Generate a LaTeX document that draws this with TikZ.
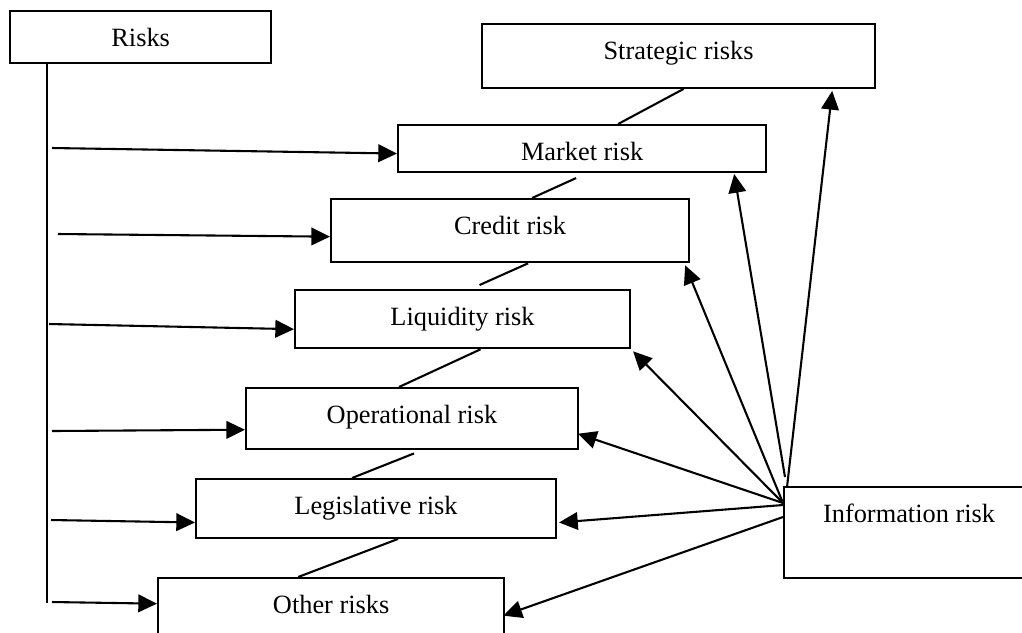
\documentclass[tikz,border=0pt]{standalone}
\usepackage{fontspec}
\setmainfont{Liberation Serif}
\usetikzlibrary{arrows.meta, calc}

\tikzset{
  riskbox/.style={draw, line width=1pt, inner xsep=2pt, inner ysep=0pt,
    text height=0.56cm, anchor=north west}
}

\begin{document}
\begin{tikzpicture}[x=0.016cm, y=-0.016cm, font=\fontsize{12}{14}\selectfont,
  >={Triangle[length=8.5pt, width=8pt]}, line width=0.95pt]
  \useasboundingbox (0,0) rectangle (1022,632);

  % the boxes
  \node[riskbox, minimum width=4.18cm, text depth=0.27cm] (risks) at (9,10) {Risks};
  \node[riskbox, minimum width=6.29cm, text depth=0.46cm] (strat) at (481,23) {Strategic risks};
  \node[riskbox, minimum width=5.89cm, text depth=0.19cm] (market) at (397,124) {Market risk};
  \node[riskbox, minimum width=5.73cm, text depth=0.45cm] (credit) at (330,198) {Credit risk};
  \node[riskbox, minimum width=5.36cm, text depth=0.37cm] (liq) at (294,289) {Liquidity risk};
  \node[riskbox, minimum width=5.31cm, text depth=0.42cm] (oper) at (245,387) {Operational risk};
  \node[riskbox, minimum width=5.76cm, text depth=0.38cm] (legis) at (195,478) {Legislative risk};
  \node[riskbox, minimum width=5.54cm, text depth=0.61cm] (other) at (157,577) {Other risks};
  \node[riskbox, minimum width=4.00cm, text depth=0.90cm] (info) at (783,486) {Information risk};

  % chain between the boxes
  \draw ($(strat.south)+(5,0)$) -- ($(market.north)+(36,0)$);
  \draw ($(market.south)+(-6,5)$) -- ($(credit.north)+(22,0)$);
  \draw ($(credit.south)+(18,0)$) -- ($(liq.north)+(17,-4)$);
  \draw ($(liq.south)+(18,0)$) -- ($(oper.north)+(-13,0)$);
  \draw ($(oper.south)+(2,3)$) -- ($(legis.north)+(-24,0)$);
  \draw ($(legis.south)+(22,0)$) -- ($(other.north)+(-33,0)$);

  % spine from Risks
  \coordinate (spine) at (47,603);
  \draw (risks.south -| spine) -- (spine);
  \foreach \n/\x/\y/\d in {market/52/148/5, credit/58/234/6, liq/49/324/10,
                           oper/52/431/11, legis/51/520/14, other/52/602/-11}{
    \coordinate (from-\n) at (\x,\y);
    \draw[->] (from-\n) -- ($(\n.west)+(0,\d)$);
  }

  % fan from Information risk
  \coordinate (hub) at ($(info.north west)+(0,17)$);
  \draw[->] ($(info.north west)+(4,1)$) -- ($(strat.south east)+(-44,2)$);
  \draw[->] ($(info.north west)+(2,-9)$) -- ($(market.south east)+(-33,1)$);
  \draw[->] (hub) -- ($(credit.south east)+(-5,2)$);
  \draw[->] (hub) -- ($(liq.south east)+(2,2)$);
  \draw[->] (hub) -- ($(oper.east)+(-1,15)$);
  \draw[->] ($(hub)+(0,2)$) -- ($(legis.east)+(2,14)$);
  \draw[->] ($(hub)+(0,14)$) -- ($(other.east)+(-2,1)$);
\end{tikzpicture}
\end{document}
